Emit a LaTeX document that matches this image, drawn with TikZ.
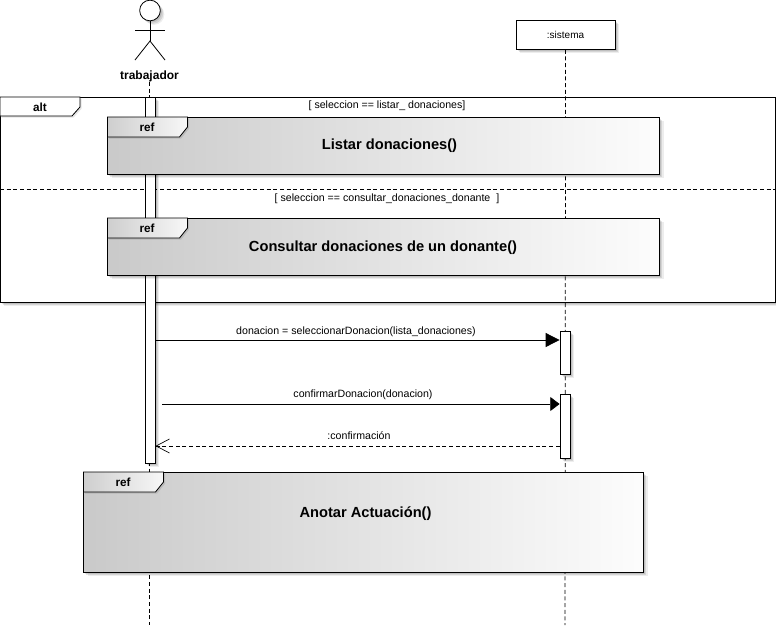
\documentclass[tikz,border=0pt]{standalone}
\usepackage{fontspec}
\setmainfont{Liberation Sans}
\usetikzlibrary{arrows.meta,shadows}

\tikzset{
    softshadow/.style={
        general shadow={shadow xshift=3pt, shadow yshift=-3pt, fill=black, opacity=0.07},
        general shadow={shadow xshift=2.2pt, shadow yshift=-2.2pt, fill=black, opacity=0.10},
        general shadow={shadow xshift=1.2pt, shadow yshift=-1.2pt, fill=black, opacity=0.10}
    },
    tagshadow/.style={
        general shadow={shadow xshift=1.2pt, shadow yshift=-1.2pt, fill=black, opacity=0.10}
    },
    box/.style={draw, fill=white, rectangle, inner sep=0pt, softshadow},
    bar/.style={box, minimum width=7.5pt},
    lifeline/.style={draw, densely dashed, line width=0.6pt},
    msg/.style={draw, line width=0.6pt},
    reffill/.style={left color=black!21, right color=black!1},
    tagfill/.style={left color=black!19, right color=black!3},
    smalltext/.style={font=\fontsize{7.95}{9}\selectfont, inner sep=0pt},
    tagtext/.style={font=\fontsize{8.8}{10}\selectfont\bfseries, inner sep=0pt},
    titletext/.style={font=\fontsize{11}{13}\selectfont\bfseries, inner sep=0pt}
}

\begin{document}
\begin{tikzpicture}[x=0.75pt, y=-0.75pt, line width=0.6pt]
    \useasboundingbox (0,0) rectangle (776,626);

    % Alt frame
    \node[box, anchor=north west, minimum width=581.5pt, minimum height=153.75pt] (altframe) at (0,97) {};
    \draw[tagshadow, fill=white] (0,97) -- (80,97) -- (80,107) -- (72,116) -- (0,116) -- cycle;
    \node[tagtext] (alttag) at (40,107.5) {alt};
    \draw[densely dashed] (altframe.west |- 0,189) -- (altframe.east |- 0,189);
    \node[smalltext] (guardone) at (387,105.5) {[ seleccion == listar\_ donaciones]};
    \node[smalltext] (guardtwo) at (387,198.5) {[ seleccion == consultar\_donaciones\_donante \ ]};

    % Actor
    \node[draw, circle, fill=white, minimum size=15.5pt, inner sep=0pt, softshadow] (head) at (150,10.5) {};
    \coordinate (hip) at (150,41);
    \coordinate (leftfoot) at (135,60);
    \coordinate (rightfoot) at (165,60);
    \coordinate (leftarm) at (135,30);
    \coordinate (rightarm) at (165,30);
    \draw (head.south) -- (hip);
    \draw (leftarm) -- (rightarm);
    \draw (leftfoot) -- (hip) -- (rightfoot);
    \node[font=\fontsize{9}{11}\selectfont\bfseries, inner sep=0pt] (trabajador) at (149.5,76) {trabajador};

    % Sistema box
    \node[box, anchor=north west, minimum width=74.5pt, minimum height=21.75pt, font=\fontsize{7.5}{9}\selectfont] (sistema) at (515.5,20) {:sistema};

    % Lifelines
    \coordinate (trabajadorend) at (149.5,625);
    \coordinate (sistemaend) at (565,625);
    \draw[lifeline] (trabajador.south) -- (trabajadorend);
    \draw[lifeline] (sistema.south) -- (sistemaend);

    % Activation bars
    \node[bar, anchor=north, minimum height=274.5pt] (barleft) at (150,97) {};
    \node[bar, anchor=north, minimum height=32.25pt] (barone) at (565,331) {};
    \node[bar, anchor=north, minimum height=48pt] (bartwo) at (565,394) {};

    % Ref frames
    \foreach \name/\xa/\ya/\xb/\yb/\ttl/\tx/\ty in {
        refone/107.5/117/659.5/174/Listar donaciones()/389.5/145.5,
        reftwo/107.5/218/659.5/275/Consultar donaciones de un donante()/383/247.5,
        refthree/83.5/472/643.5/572/Anotar Actuación()/365.5/513.5} {
        \draw[reffill, softshadow] (\xa,\ya) rectangle (\xb,\yb);
        \draw[tagfill, tagshadow] (\xa,\ya) -- ({\xa+80},\ya) -- ({\xa+80},{\ya+10}) -- ({\xa+72},{\ya+20}) -- (\xa,{\ya+20}) -- cycle;
        \node[tagtext] (\name tag) at ({\xa+39.5},{\ya+10.5}) {ref};
        \node[titletext] (\name) at (\tx,\ty) {\ttl};
    }

    % Messages
    \coordinate (confirmstart) at (162,404);
    \draw[msg, -{Triangle[length=10.5pt, width=10.5pt]}] (barleft.east |- 0,340) -- (barone.west |- 0,340);
    \draw[msg, -{Triangle[length=7pt, width=10.5pt]}] (confirmstart) -- (bartwo.west |- confirmstart);
    \draw[msg, densely dashed, -{Straight Barb[length=10pt, width=10.5pt, line width=0.5pt]}] (bartwo.west |- 0,446) -- (barleft.east |- 0,446);

    % Message labels
    \node[smalltext] (msgone) at (356,331.5) {donacion = seleccionarDonacion(lista\_donaciones)};
    \node[smalltext] (msgtwo) at (363,394.5) {confirmarDonacion(donacion)};
    \node[smalltext] (msgthree) at (359,436) {:confirmación};
\end{tikzpicture}
\end{document}
